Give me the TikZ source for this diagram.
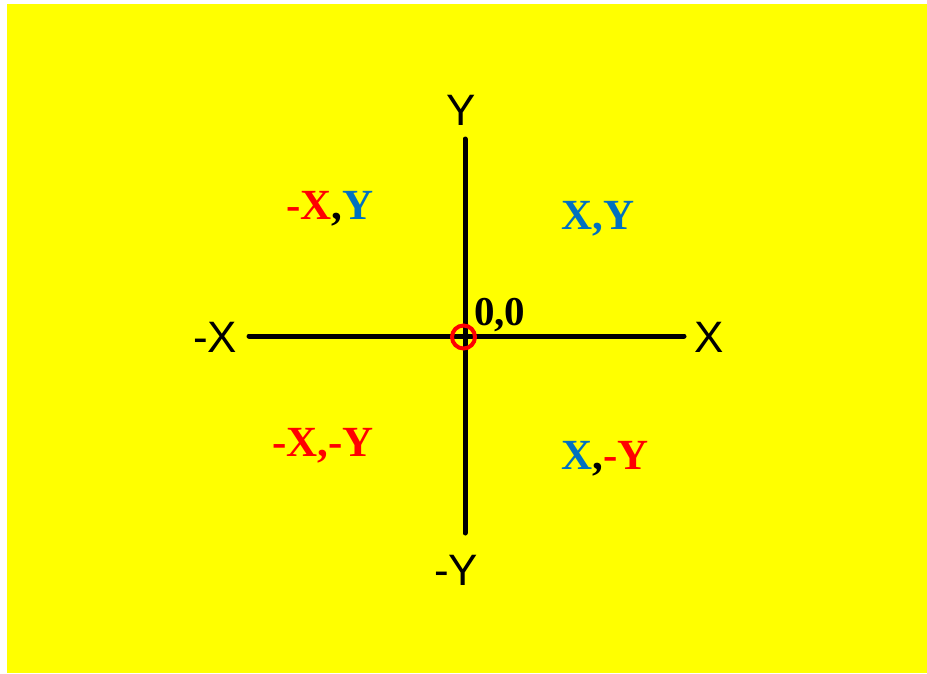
\documentclass[tikz,border=0pt]{standalone}
\usepackage{fontspec}
\setmainfont{Liberation Serif}
\setsansfont{Liberation Sans}
\definecolor{bgyellow}{RGB}{255,255,0}
\definecolor{qblue}{RGB}{0,112,192}
\definecolor{qred}{RGB}{255,0,0}
\begin{document}
\begin{tikzpicture}[x=1pt,y=-1pt,
  axis/.style={line width=5pt,line cap=round,black},
  axlabel/.style={inner sep=0pt,anchor=base,font=\sffamily\fontsize{44}{50}\selectfont},
  quad/.style={inner sep=0pt,anchor=base,font=\bfseries\fontsize{43}{50}\selectfont}]
\useasboundingbox (0,0) rectangle (927,673);
\fill[white] (0,0) rectangle (927,673);
\fill[bgyellow] (7,4) rectangle (927,673);
\coordinate (o) at (464.5,336);
\coordinate (xl) at (249,336);
\coordinate (xr) at (684,336);
\coordinate (yt) at (465,139);
\coordinate (yb) at (465,533);
\draw[axis] (xl) -- (xr);
\draw[axis] (yt) -- (yb);
\node[circle,draw=qred,line width=4pt,minimum size=23pt,inner sep=0pt] (orig) at (463.5,337) {};
\node[axlabel] (ly) at (461,125) {Y};
\node[axlabel] (lmy) at (456,585) {-Y};
\node[axlabel] (lmx) at (215,352) {-X};
\node[axlabel] (lx) at (709,352) {X};
\node[quad,anchor=base west,font=\bfseries\fontsize{41}{48}\selectfont] (zero) at (474,325) {0,0};
\node[quad] (q2) at (330,219) {\textcolor{qred}{-X},\textcolor{qblue}{Y}};
\node[quad] (q1) at (598,229) {\textcolor{qblue}{X,Y}};
\node[quad] (q3) at (323,456) {\textcolor{qred}{-X,-Y}};
\node[quad] (q4) at (605,469) {\textcolor{qblue}{X},\textcolor{qred}{-Y}};
\end{tikzpicture}
\end{document}
